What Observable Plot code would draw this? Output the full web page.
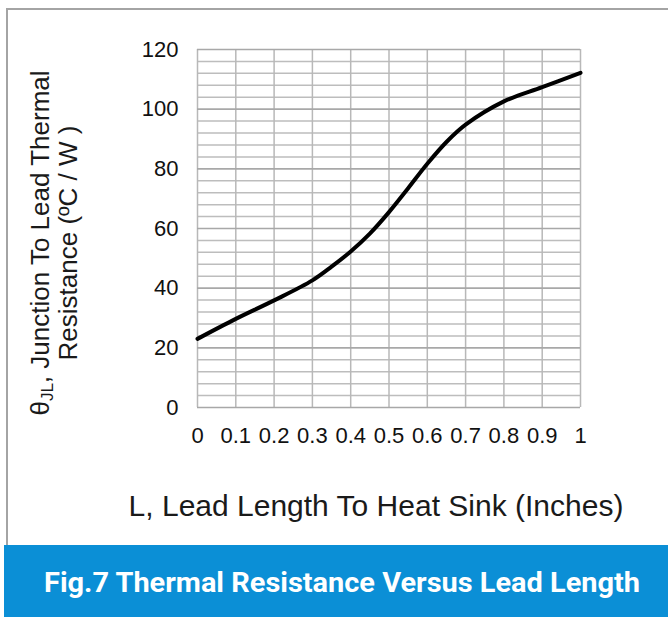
<!DOCTYPE html>
<html>
<head>
<meta charset="utf-8">
<script src="https://cdn.jsdelivr.net/npm/d3@7"></script>
<script src="https://cdn.jsdelivr.net/npm/@observablehq/plot@0.6"></script>
<style>
  html, body { margin: 0; padding: 0; background: #fff; }
  #wrap { position: relative; width: 668px; height: 617px; overflow: hidden; background: #fff;
          font-family: "Liberation Sans", Arial, sans-serif; color: #1a1a1a; }
  #frame { position: absolute; left: 6px; top: 8px; width: 680px; height: 560px;
           border-left: 2px solid #a4a4a4; border-top: 2px solid #a4a4a4; }
  #plot { position: absolute; left: 0; top: 0; }
  #ylab { position: absolute; left: -146px; top: 215px; width: 400px; height: 56px;
          transform: rotate(-90deg); transform-origin: 200px 28px; text-align: center;
          font-size: 26px; line-height: 28px; white-space: nowrap; }
  #ylab sub { font-size: 17px; vertical-align: -4px; line-height: 0; }
  #xlab { position: absolute; left: 76px; width: 600px; top: 489px; text-align: center;
          font-size: 30px; line-height: 34px; white-space: nowrap; }
  #banner { position: absolute; left: 4px; right: 0; top: 545px; height: 72px; background: #0b8fd6; }
  #banner span { position: absolute; left: 338px; top: 38px; color: #fff; font-family: Roboto, "Liberation Sans", sans-serif;
          font-weight: 700; font-size: 27px; white-space: nowrap; transform: translate(-50%, -50%); }
</style>
</head>
<body>
<div id="wrap">
  <div id="frame"></div>
  <div id="plot"></div>
  <div id="ylab">θ<sub>JL</sub>, Junction To Lead Thermal<br>Resistance (ºC / W )</div>
  <div id="xlab">L, Lead Length To Heat Sink (Inches)</div>
  <div id="banner"><span id="btext">Fig.7 Thermal Resistance Versus Lead Length</span></div>
</div>
<script>
// Lead length (inches) and junction-to-lead thermal resistance (°C/W)
const leadLength = [0, 0.1, 0.2, 0.3, 0.35, 0.4, 0.45, 0.5, 0.55, 0.6, 0.65, 0.7, 0.8, 0.9, 1.0];
const resistance = [23, 29.7, 35.9, 42.6, 47.2, 52.3, 58.3, 65.5, 73.5, 81.7, 89, 94.8, 102.6, 107.4, 112.2];

const xTicks = [0, 0.1, 0.2, 0.3, 0.4, 0.5, 0.6, 0.7, 0.8, 0.9, 1];
const xTickLabels = ["0", "0.1", "0.2", "0.3", "0.4", "0.5", "0.6", "0.7", "0.8", "0.9", "1"];
const yTicks = [0, 20, 40, 60, 80, 100, 120];
const yMinorGrid = d3.range(0, 121, 4);

const data = leadLength.map((L, i) => ({L, R: resistance[i]}));

const chart = Plot.plot({
  width: 668,
  height: 460,
  marginLeft: 197,
  marginRight: 88,
  marginTop: 49,
  marginBottom: 53,
  style: {fontFamily: '"Liberation Sans", Arial, sans-serif', fontSize: "21px", color: "#111", background: "transparent"},
  x: {domain: [0, 1]},
  y: {domain: [0, 120]},
  marks: [
    Plot.gridY(yMinorGrid.filter(v => v % 20 !== 0), {stroke: "#bdbdbd", strokeOpacity: 1, strokeWidth: 1.5}),
    Plot.gridX(xTicks, {stroke: "#b8b8b8", strokeOpacity: 1, strokeWidth: 1.5}),
    Plot.gridY(yTicks, {stroke: "#a8a8a8", strokeOpacity: 1, strokeWidth: 1.6}),
    Plot.axisY(yTicks, {tickSize: 0, tickPadding: 19, label: null, fontSize: 22}),
    Plot.axisX(xTicks, {tickSize: 0, tickPadding: 20, label: null, fontSize: 22,
      tickFormat: d => xTickLabels[xTicks.indexOf(d)]}),
    Plot.line(data, {x: "L", y: "R", stroke: "#000", strokeWidth: 4, curve: "catmull-rom"})
  ]
});
document.getElementById("plot").appendChild(chart);

// Fit banner text to its width in the reference (condensed bold look)
const bt = document.getElementById("btext");
const w = bt.getBoundingClientRect().width;
bt.style.transform = `translate(-50%, -50%) scaleX(${596 / w})`;
</script>
</body>
</html>
